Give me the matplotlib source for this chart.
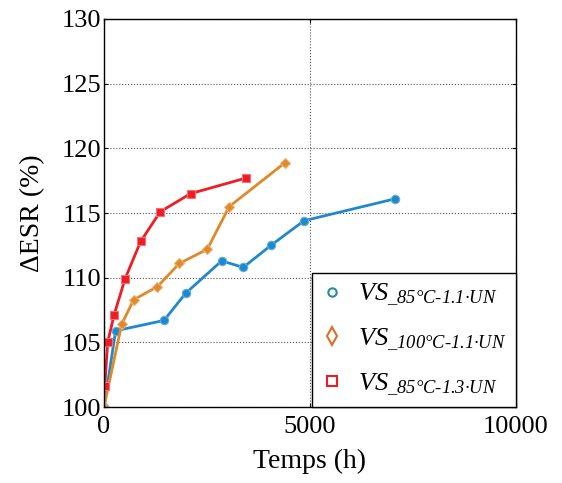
import matplotlib
matplotlib.use('Agg')
import matplotlib.pyplot as plt
from matplotlib.lines import Line2D

plt.rcParams['font.family'] = 'Liberation Serif'
plt.rcParams['mathtext.fontset'] = 'custom'
plt.rcParams['mathtext.rm'] = 'Liberation Serif:italic'
plt.rcParams['mathtext.it'] = 'Liberation Serif:italic'

# data
t_a = [0, 284, 1456, 1983, 2856, 3382, 4053, 4854, 7070]
esr_a = [100, 105.9, 106.7, 108.8, 111.3, 110.8, 112.5, 114.4, 116.1]

t_b = [0, 429, 720, 1294, 1828, 2508, 3042, 4401]
esr_b = [100, 106.4, 108.3, 109.3, 111.1, 112.2, 115.5, 118.9]

t_c = [20, 89, 243, 510, 890, 1367, 2104, 3447]
esr_c = [101.6, 105.0, 107.1, 109.9, 112.8, 115.1, 116.5, 117.7]

labels = [r'$\text{VS}_{\text{\_85°C-1.1·UN}}$',
          r'$\text{VS}_{\text{\_100°C-1.1·UN}}$',
          r'$\text{VS}_{\text{\_85°C-1.3·UN}}$']

fig = plt.figure(figsize=(5.62, 4.83), dpi=100)
ax = fig.add_axes([0.185, 0.157, 0.733, 0.804])

ax.plot(t_a, esr_a, '-o', color='#2089cc', lw=2, ms=6, mec='#5aaee0', mew=0.8)
ax.plot(t_b, esr_b, '-D', color='#e0892a', lw=2, ms=5, mec='#f0b070', mew=0.8)
ax.plot(t_c, esr_c, '-s', color='#ee1c25', lw=2, ms=6, mec='#f87070', mew=0.8)

ax.set_xlim(0, 10000)
ax.set_ylim(100, 130)
ax.set_xticks([0, 5000, 10000])
ax.set_yticks(range(100, 131, 5))
ax.tick_params(direction='in', top=True, right=True, labelsize=19, length=3)
ax.tick_params(axis='x', pad=6)
ax.tick_params(axis='y', pad=2)
ax.grid(True, color='#555555', linestyle=':', linewidth=0.8)
for s in ax.spines.values():
    s.set_linewidth(1.0)

ax.set_xlabel('Temps (h)', fontsize=20, labelpad=8)
ax.set_ylabel('ΔESR (%)', fontsize=20, labelpad=12)

handles = [
    Line2D([], [], ls='none', marker='o', ms=6, mfc='white', mec='#2a8a9e', mew=1.5),
    Line2D([], [], ls='none', marker='d', ms=9, mfc='white', mec='#e07020', mew=1.5),
    Line2D([], [], ls='none', marker='s', ms=7, mfc='white', mec='#ee1c25', mew=1.5),
]
leg = ax.legend(handles, labels, loc='lower right', bbox_to_anchor=(1.0, 0.0),
                fontsize=19, frameon=True, fancybox=False, edgecolor='black',
                borderaxespad=0.0, handlelength=0.8, handletextpad=0.6,
                labelspacing=0.7, borderpad=0.35)
leg.get_frame().set_linewidth(1.0)
leg.get_frame().set_alpha(1)

fig.savefig('out.png', dpi=100)
